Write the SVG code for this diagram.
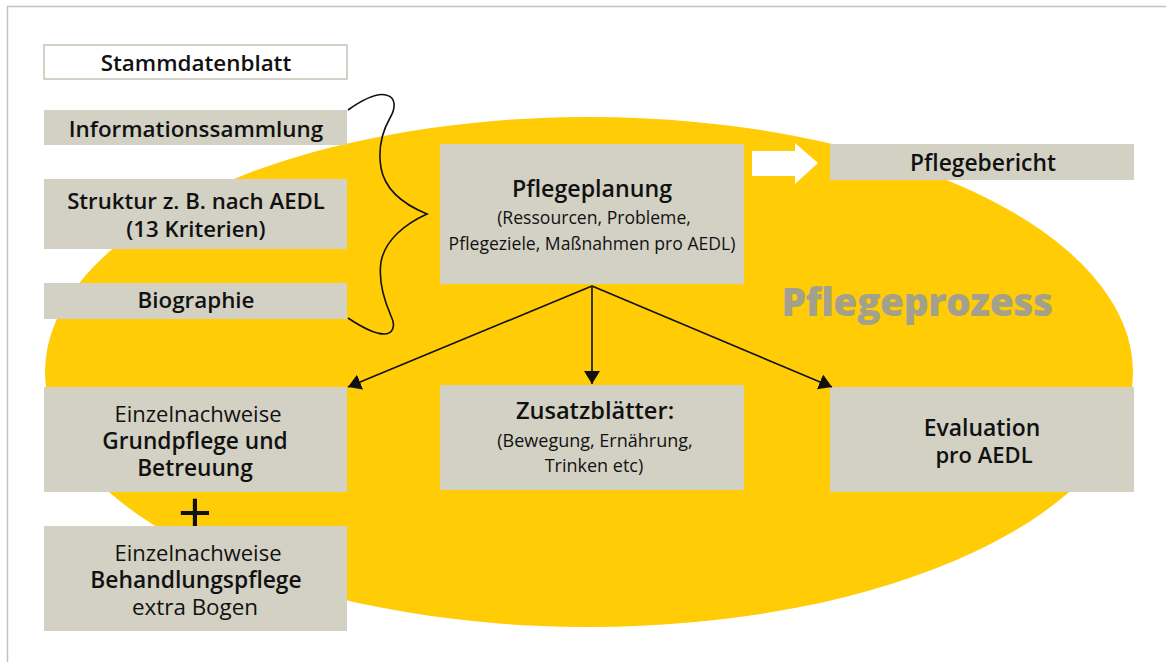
<svg xmlns="http://www.w3.org/2000/svg" width="1166" height="662" viewBox="0 0 1166 662">
<defs>
<style>
.box{fill:#d3d1c4}
.t{font-family:"Open Sans","Liberation Sans",Arial,sans-serif;fill:#111;text-anchor:middle}
.b{font-weight:600;font-size:22.4px}
.r{font-size:17.6px}
.s{font-size:18px}
.conn{stroke:#111;stroke-width:1.6;fill:none}
</style>
<marker id="ah" markerUnits="userSpaceOnUse" markerWidth="14" markerHeight="18" refX="13" refY="8" orient="auto">
<path d="M0,0 L13,8 L0,16 z" fill="#111"/>
</marker>
</defs>
<rect width="1166" height="662" fill="#fff"/>
<path d="M7.5,662 V6.5 H1166" fill="none" stroke="#c5c3b5" stroke-width="1.5"/>
<ellipse id="pflegeprozess-bg" cx="589" cy="372" rx="544" ry="255" fill="#ffcc05"/>
<text class="t" x="917" y="316" style="font-size:39px;font-weight:800;fill:#a3a18c;letter-spacing:-0.5px">Pflegeprozess</text>

<g id="stammdatenblatt">
<rect x="44" y="45" width="303" height="34" fill="#fff" stroke="#c5c3b5" stroke-width="1.5"/>
<text class="t b" x="196" y="71">Stammdatenblatt</text>
</g>
<g id="informationssammlung">
<rect class="box" x="44" y="110" width="303" height="35"/>
<text class="t b" x="196" y="137">Informationssammlung</text>
</g>
<g id="struktur">
<rect class="box" x="44" y="179" width="303" height="70"/>
<text class="t b" x="196" y="209" style="font-size:22.2px">Struktur z. B. nach AEDL</text>
<text class="t b" x="196" y="237" style="font-size:22.2px">(13 Kriterien)</text>
</g>
<g id="biographie">
<rect class="box" x="44" y="283" width="303" height="36"/>
<text class="t b" x="196" y="308">Biographie</text>
</g>
<g id="pflegeplanung">
<rect class="box" x="440" y="144" width="304" height="140"/>
<text class="t b" x="592" y="197" style="font-size:23.2px">Pflegeplanung</text>
<text class="t r" x="594" y="224">(Ressourcen, Probleme,</text>
<text class="t r" x="592" y="250">Pflegeziele, Maßnahmen pro AEDL)</text>
</g>
<g id="pflegebericht">
<rect class="box" x="830" y="144" width="304" height="36"/>
<text class="t b" x="983" y="171" style="font-size:22.8px">Pflegebericht</text>
</g>
<g id="einzelnachweise-grundpflege">
<rect class="box" x="44" y="387" width="303" height="105"/>
<text class="t" x="198" y="422" style="font-size:22px">Einzelnachweise</text>
<text class="t b" x="195" y="449" style="font-size:22.7px">Grundpflege und</text>
<text class="t b" x="195" y="476" style="font-size:22.7px">Betreuung</text>
</g>
<g id="plus">
<text class="t" x="195" y="532" style="font-size:58px;font-family:'Liberation Sans',Arial,sans-serif">+</text>
</g>
<g id="einzelnachweise-behandlungspflege">
<rect class="box" x="44" y="526" width="303" height="105"/>
<text class="t" x="198" y="561" style="font-size:22px">Einzelnachweise</text>
<text class="t b" x="196" y="588" style="font-size:22.8px">Behandlungspflege</text>
<text class="t" x="195" y="615" style="font-size:22.4px">extra Bogen</text>
</g>
<g id="zusatzblaetter">
<rect class="box" x="440" y="385" width="304" height="105"/>
<text class="t b" x="595" y="419" style="font-size:23.6px">Zusatzblätter:</text>
<text class="t s" x="595" y="447">(Bewegung, Ernährung,</text>
<text class="t s" x="594" y="472">Trinken etc)</text>
</g>
<g id="evaluation">
<rect class="box" x="830" y="387" width="304" height="105"/>
<text class="t b" x="982" y="436" style="font-size:22.9px">Evaluation</text>
<text class="t b" x="984" y="463" style="font-size:22px">pro AEDL</text>
</g>

<g id="connectors">
<path class="conn" d="M348,110 C365,98 378,93 386,95 C396,97 396,108 390,118 C382,132 378,150 381,168 C385,190 405,205 427,214 C405,224 385,240 381,262 C378,282 384,300 391,316 C396,326 393,334 384,334 C374,334 360,326 348,318" stroke-width="1.5"/>
<polygon points="752,151 795,151 795,143 818,163 795,184 795,176 752,176" fill="#fff"/>
<line class="conn" x1="592" y1="286" x2="348" y2="387" marker-end="url(#ah)"/>
<line class="conn" x1="592" y1="286" x2="592" y2="384" marker-end="url(#ah)"/>
<line class="conn" x1="592" y1="286" x2="832" y2="387" marker-end="url(#ah)"/>
</g>
</svg>
